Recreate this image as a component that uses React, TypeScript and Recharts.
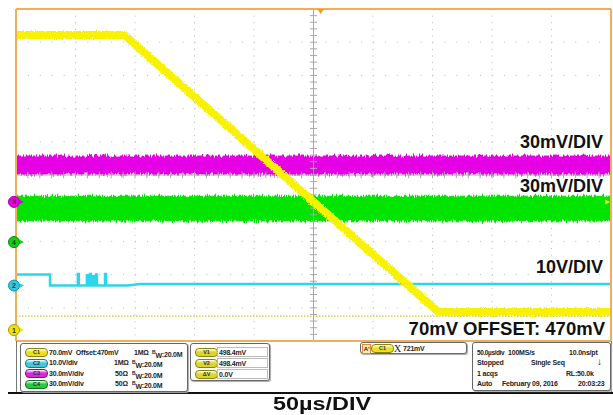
import React from "react";
import {
  ComposedChart,
  Line,
  Area,
  XAxis,
  YAxis,
  CartesianGrid,
  ReferenceLine,
  ReferenceDot,
} from "recharts";

// time in µs (50 µs/div), vertical position in divisions (0 = bottom of screen)
const timeTicks = [0, 50, 100, 150, 200, 250, 300, 350, 400, 450, 500];
const divTicks = [0, 1, 2, 3, 4, 5, 6, 7, 8, 9, 10];
const minorTimeTicks = [
  0, 10, 20, 30, 40, 50, 60, 70, 80, 90, 100, 110, 120, 130, 140, 150, 160, 170, 180, 190, 200,
  210, 220, 230, 240, 250, 260, 270, 280, 290, 300, 310, 320, 330, 340, 350, 360, 370, 380, 390,
  400, 410, 420, 430, 440, 450, 460, 470, 480, 490, 500,
];
const minorDivTicks = [
  0, 0.2, 0.4, 0.6, 0.8, 1, 1.2, 1.4, 1.6, 1.8, 2, 2.2, 2.4, 2.6, 2.8, 3, 3.2, 3.4, 3.6, 3.8, 4,
  4.2, 4.4, 4.6, 4.8, 5, 5.2, 5.4, 5.6, 5.8, 6, 6.2, 6.4, 6.6, 6.8, 7, 7.2, 7.4, 7.6, 7.8, 8, 8.2,
  8.4, 8.6, 8.8, 9, 9.2, 9.4, 9.6, 9.8, 10,
];

// C1 (yellow) - ramp down
const c1Time = [0, 91, 355, 500];
const c1Div = [9.22, 9.22, 0.87, 0.87];

// C2 (cyan) - logic level with a few glitches
const c2Time = [
  0, 28.6, 28.6, 52.0, 52.0, 52.8, 52.8, 59.6, 59.6, 60.4, 60.4, 62.2, 62.2, 63.0, 63.0, 64.6,
  64.6, 65.4, 65.4, 67.2, 67.2, 68.0, 68.0, 74.8, 74.8, 75.6, 75.6, 94, 104, 500,
];
const c2Div = [
  2.0, 2.0, 1.67, 1.67, 2.02, 2.02, 1.67, 1.67, 1.98, 1.98, 1.67, 1.67, 2.02, 2.02, 1.67, 1.67,
  1.95, 1.95, 1.67, 1.67, 2.0, 2.0, 1.67, 1.67, 2.02, 2.02, 1.67, 1.67, 1.72, 1.72,
];

// C3 (magenta) and C4 (green) - noise bands
const bandTime = [0, 500];
const c3Low = [5.03, 5.03];
const c3High = [5.57, 5.57];
const c4Low = [3.62, 3.62];
const c4High = [4.36, 4.36];

const offsetLevel = 0.75;
const triggerTime = 256;
const triggerLevel = 4.19;

const markerLabels = ["3", "4", "2", "1"];
const markerLevels = [4.19, 2.98, 1.67, 0.33];

const YELLOW = "#f8f200";
const CYAN = "#2ad6ea";
const MAGENTA = "#e600e6";
const GREEN = "#00e400";
const BORDER = "#efae5e";
const markerFill = ["#e600e6", "#10d010", "#30c8e0", "#f0e400"];
const markerEdge = ["#a000a0", "#088a08", "#1890a8", "#a89c00"];

const c1Data = c1Time.map((t, i) => ({ t, v: c1Div[i] }));
const c2Data = c2Time.map((t, i) => ({ t, v: c2Div[i] }));
const c3Data = bandTime.map((t, i) => ({ t, band: [c3Low[i], c3High[i]] }));
const c4Data = bandTime.map((t, i) => ({ t, band: [c4Low[i], c4High[i]] }));

const FONT = '"Liberation Sans", Arial, sans-serif';

const markerShape = (label: string, fill: string, edge: string) => (p: any) => (
  <g>
    <circle cx={p.cx - 2} cy={p.cy} r={5.5} fill={fill} stroke={edge} strokeWidth={1} />
    <text
      x={p.cx - 2}
      y={p.cy + 2.5}
      textAnchor="middle"
      fontSize={7}
      fontWeight="bold"
      fill="#333"
      fontFamily={FONT}
    >
      {label}
    </text>
    <path d={`M${p.cx + 4} ${p.cy - 2} L${p.cx + 8} ${p.cy} L${p.cx + 4} ${p.cy + 2} Z`} fill={fill} />
  </g>
);

const triggerShape = (p: any) => (
  <path d={`M${p.cx - 3.5} ${p.cy} L${p.cx + 3.5} ${p.cy} L${p.cx} ${p.cy + 5} Z`} fill="#f0a020" />
);

const levelShape = (p: any) => (
  <path d={`M${p.cx - 1} ${p.cy} L${p.cx - 6} ${p.cy - 2.5} L${p.cx - 6} ${p.cy + 2.5} Z`} fill={YELLOW} />
);

const small: React.CSSProperties = {
  position: "absolute",
  fontSize: 7,
  fontWeight: "bold",
  fontFamily: FONT,
  color: "#222",
  lineHeight: "9px",
  letterSpacing: -0.2,
  whiteSpace: "nowrap",
};

const Txt = ({ x, y, children, style }: { x: number; y: number; children: React.ReactNode; style?: React.CSSProperties }) => (
  <div style={{ ...small, left: x, top: y - 4.5, ...style }}>{children}</div>
);

const BW = () => (
  <span>
    <span style={{ fontSize: 5, verticalAlign: 3 }}>B</span>
    <span style={{ verticalAlign: -1 }}>W</span>:20.0M
  </span>
);

const Pill = ({ x, y, label, color, edge }: { x: number; y: number; label: string; color: string; edge: string }) => (
  <div
    style={{
      position: "absolute",
      left: x,
      top: y - 4,
      width: 21,
      height: 7,
      borderRadius: 4,
      background: `linear-gradient(#ffffff88, ${color} 45%, ${color})`,
      border: `1px solid ${edge}`,
      fontSize: 5.5,
      fontWeight: "bold",
      fontFamily: FONT,
      color: "#333",
      textAlign: "center",
      lineHeight: "7px",
    }}
  >
    {label}
  </div>
);

const Box = ({ x, y, w, h }: { x: number; y: number; w: number; h: number }) => (
  <div
    style={{
      position: "absolute",
      left: x,
      top: y,
      width: w,
      height: h,
      border: "1px solid #666",
      borderRadius: 3,
      background: "#fff",
      boxShadow: "1px 1px 1px #aaa",
      boxSizing: "border-box",
    }}
  />
);

const Field = ({ x, y, w }: { x: number; y: number; w: number }) => (
  <div
    style={{
      position: "absolute",
      left: x,
      top: y - 5,
      width: w,
      height: 10,
      border: "1px solid #bbb",
      boxSizing: "border-box",
    }}
  />
);

const big: React.CSSProperties = {
  position: "absolute",
  fontSize: 18,
  fontWeight: "bold",
  fontFamily: FONT,
  color: "#111",
  lineHeight: "18px",
  whiteSpace: "nowrap",
};

export default function App() {
  return (
    <div style={{ position: "absolute", left: 0, top: 0, width: 613, height: 415, background: "#fff", overflow: "hidden" }}>
      <ComposedChart width={613} height={348} margin={{ top: 9, left: 16, right: 2, bottom: 7 }}>
        <defs>
          <filter id="noise" filterUnits="userSpaceOnUse" x="0" y="0" width="613" height="348">
            <feTurbulence type="fractalNoise" baseFrequency="0.9 0.06" numOctaves="2" seed="4" result="t" />
            <feDisplacementMap in="SourceGraphic" in2="t" scale="7" xChannelSelector="R" yChannelSelector="G" />
          </filter>
          <filter id="noiseSoft" filterUnits="userSpaceOnUse" x="0" y="0" width="613" height="348">
            <feTurbulence type="fractalNoise" baseFrequency="0.9 0.9" numOctaves="1" seed="7" result="t" />
            <feDisplacementMap in="SourceGraphic" in2="t" scale="4" xChannelSelector="R" yChannelSelector="G" />
          </filter>
        </defs>
        <XAxis type="number" dataKey="t" domain={[0, 500]} ticks={timeTicks} hide allowDataOverflow />
        <YAxis type="number" domain={[0, 10]} ticks={divTicks} hide allowDataOverflow />
        <CartesianGrid horizontal={false} stroke="#bcbcbc" strokeDasharray="1 5.64" />
        <CartesianGrid vertical={false} stroke="#bcbcbc" strokeDasharray="1 10.9" />
        <ReferenceLine x={250} stroke="#a8a8a8" />
        <ReferenceLine y={5} stroke="#a8a8a8" />
        {minorTimeTicks.map((t) => (
          <ReferenceLine
            key={`cx${t}`}
            segment={[
              { x: t, y: 4.9 },
              { x: t, y: 5.1 },
            ]}
            stroke="#a8a8a8"
          />
        ))}
        {minorDivTicks.map((d) => (
          <ReferenceLine
            key={`cy${d}`}
            segment={[
              { x: 247, y: d },
              { x: 253, y: d },
            ]}
            stroke="#a8a8a8"
          />
        ))}
        <ReferenceLine y={offsetLevel} stroke="#c8b000" strokeDasharray="1.5 1.5" />

        <Area
          data={c3Data}
          dataKey="band"
          type="linear"
          fill={MAGENTA}
          fillOpacity={1}
          stroke={MAGENTA}
          strokeWidth={1}
          filter="url(#noise)"
          isAnimationActive={false}
        />
        <Area
          data={c4Data}
          dataKey="band"
          type="linear"
          fill={GREEN}
          fillOpacity={1}
          stroke={GREEN}
          strokeWidth={1}
          filter="url(#noise)"
          isAnimationActive={false}
        />
        <Line data={c2Data} dataKey="v" type="linear" stroke={CYAN} strokeWidth={2.5} dot={false} isAnimationActive={false} />
        <Line
          data={c1Data}
          dataKey="v"
          type="linear"
          stroke={YELLOW}
          strokeWidth={8}
          dot={false}
          filter="url(#noiseSoft)"
          isAnimationActive={false}
        />

        <XAxis xAxisId="top" orientation="top" mirror type="number" domain={[0, 500]} ticks={minorTimeTicks} interval={0} tick={false} tickSize={4} axisLine={{ stroke: BORDER, strokeWidth: 2 }} tickLine={{ stroke: "#999" }} />
        <XAxis xAxisId="bot" orientation="bottom" mirror type="number" domain={[0, 500]} ticks={minorTimeTicks} interval={0} tick={false} tickSize={4} axisLine={{ stroke: BORDER, strokeWidth: 2 }} tickLine={{ stroke: "#999" }} />
        <YAxis yAxisId="l" orientation="left" mirror type="number" domain={[0, 10]} ticks={minorDivTicks} interval={0} tick={false} tickSize={4} axisLine={{ stroke: BORDER, strokeWidth: 2 }} tickLine={{ stroke: "#999" }} />
        <YAxis yAxisId="r" orientation="right" mirror type="number" domain={[0, 10]} ticks={minorDivTicks} interval={0} tick={false} tickSize={4} axisLine={{ stroke: BORDER, strokeWidth: 2 }} tickLine={{ stroke: "#999" }} />

        {markerLabels.map((m, i) => (
          <ReferenceDot
            key={`m${m}`}
            x={0}
            y={markerLevels[i]}
            ifOverflow="visible"
            shape={markerShape(m, markerFill[i], markerEdge[i])}
          />
        ))}
        <ReferenceDot x={triggerTime} y={10} ifOverflow="visible" shape={triggerShape} />
        <ReferenceDot x={500} y={triggerLevel} ifOverflow="visible" shape={levelShape} />
      </ComposedChart>

      <div style={{ ...big, right: 10, top: 133 }}>30mV/DIV</div>
      <div style={{ ...big, right: 10, top: 177 }}>30mV/DIV</div>
      <div style={{ ...big, right: 10, top: 258 }}>10V/DIV</div>
      <div style={{ ...big, right: 8, top: 320, fontSize: 18.5 }}>70mV OFFSET: 470mV</div>

      {/* info panel */}
      <div style={{ position: "absolute", left: 16, top: 341, width: 1, height: 52, background: "#777" }} />
      <div style={{ position: "absolute", left: 611, top: 341, width: 1, height: 52, background: "#777" }} />
      <div style={{ position: "absolute", left: 8, top: 392, width: 605, height: 1.5, background: "#111" }} />

      <Box x={20} y={343} w={168} h={49} />
      <Pill x={25} y={352} label="C1" color="#e8e020" edge="#8a8400" />
      <Pill x={25} y={362.5} label="C2" color="#40c8dc" edge="#1a7888" />
      <Pill x={25} y={373} label="C3" color="#d828d8" edge="#801080" />
      <Pill x={25} y={383.5} label="C4" color="#28c840" edge="#107820" />
      <Txt x={49} y={352}>70.0mV&nbsp; Offset:470mV</Txt>
      <Txt x={134} y={352}>1MΩ</Txt>
      <Txt x={152} y={352}><BW /></Txt>
      <Txt x={49} y={362.5}>10.0V/div</Txt>
      <Txt x={114} y={362.5}>1MΩ</Txt>
      <Txt x={132} y={362.5}><BW /></Txt>
      <Txt x={49} y={373}>30.0mV/div</Txt>
      <Txt x={115} y={373}>50Ω</Txt>
      <Txt x={132} y={373}><BW /></Txt>
      <Txt x={49} y={383.5}>30.0mV/div</Txt>
      <Txt x={115} y={383.5}>50Ω</Txt>
      <Txt x={132} y={383.5}><BW /></Txt>

      <Box x={190} y={343} w={80} h={38} />
      <Pill x={195} y={352} label="V1" color="#dcd430" edge="#8a8400" />
      <Pill x={195} y={363} label="V2" color="#dcd430" edge="#8a8400" />
      <Pill x={195} y={374} label="ΔV" color="#dcd430" edge="#8a8400" />
      <Field x={217} y={352} w={51} />
      <Field x={217} y={363} w={51} />
      <Field x={217} y={374} w={51} />
      <Txt x={219} y={352}>498.4mV</Txt>
      <Txt x={219} y={363}>498.4mV</Txt>
      <Txt x={219} y={374}>0.0V</Txt>

      <Box x={360} y={342} w={107} h={12} />
      <div style={{ ...small, left: 362, top: 343.5, width: 7, height: 8, border: "1px solid #e08a30", background: "#f4e8c0", fontSize: 6, lineHeight: "8px", textAlign: "center" }}>A'</div>
      <Pill x={371} y={348} label="C1" color="#e8e020" edge="#8a8400" />
      <div style={{ ...small, left: 394, top: 342.5, fontSize: 10, fontFamily: "serif", fontWeight: "normal", lineHeight: "11px" }}>X</div>
      <Txt x={403} y={348}>721mV</Txt>

      <Box x={472} y={342} w={139} h={49} />
      <Txt x={477} y={352} style={{ fontSize: 6.5, letterSpacing: -0.4 }}>50.0µs/div</Txt>
      <Txt x={508} y={352}>100MS/s</Txt>
      <Txt x={569} y={352}>10.0ns/pt</Txt>
      <Txt x={477} y={362.5}>Stopped</Txt>
      <Txt x={531} y={362.5}>Single Seq</Txt>
      <div style={{ ...small, left: 597, top: 356, fontSize: 10, lineHeight: "11px" }}>↓</div>
      <Txt x={477} y={373}>1 acqs</Txt>
      <Txt x={566} y={373}>RL:50.0k</Txt>
      <Txt x={477} y={383.5}>Auto</Txt>
      <Txt x={502} y={383.5}>February 09, 2016</Txt>
      <Txt x={578} y={383.5}>20:03:23</Txt>

      <div
        style={{
          ...big,
          left: 273,
          top: 395,
          fontSize: 18,
          transform: "scaleX(1.3)",
          transformOrigin: "left center",
        }}
      >
        50µs/DIV
      </div>
    </div>
  );
}
